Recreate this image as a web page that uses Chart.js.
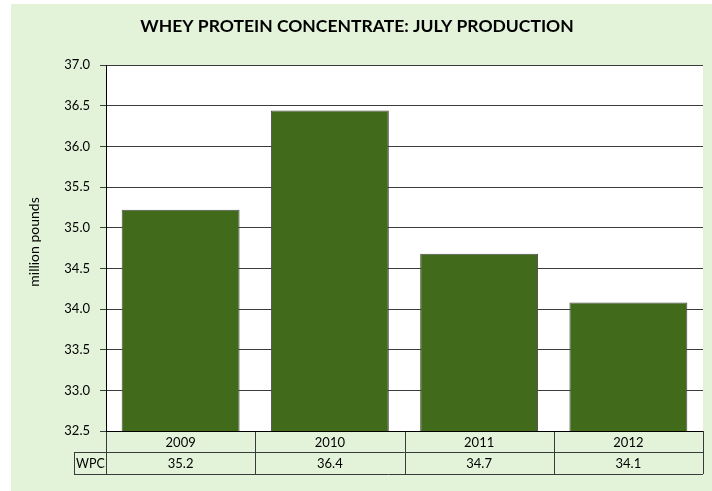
<!DOCTYPE html>
<html>
<head>
<meta charset="utf-8">
<script src="https://cdn.jsdelivr.net/npm/chart.js@4.4.1/dist/chart.umd.min.js"></script>
<style>
  html, body { margin: 0; padding: 0; background: #fff; }
  #wrap { position: absolute; left: 11px; top: 4px; width: 701px; height: 487px; background: #e3f3d9; }
</style>
</head>
<body>
<div id="wrap"><canvas id="chart"></canvas></div>
<script>
// ── data ──
const years = ['2009', '2010', '2011', '2012'];
const wpc = [35.22, 36.44, 34.68, 34.08];
const wpcLabels = ['35.2', '36.4', '34.7', '34.1'];
const seriesName = 'WPC';

const FONT = "Lato, 'Open Sans', sans-serif";

// white plot area
const plotBg = {
  id: 'plotBg',
  beforeDraw(chart) {
    const { ctx, chartArea: a } = chart;
    ctx.save();
    ctx.fillStyle = '#fff';
    ctx.fillRect(a.left, a.top, a.width, a.height);
    ctx.restore();
  }
};

// draws the data table under the plot
const dataTable = {
  id: 'dataTable',
  afterDraw(chart) {
    const { ctx, chartArea } = chart;
    const x = chart.scales.x;
    const n = years.length;
    const cw = chartArea.width / n;
    const top = chartArea.bottom;
    const row1 = 21, row2 = 22;
    const mid = top + row1;
    const bot = mid + row2;
    const labelLeft = 63;

    ctx.save();
    ctx.strokeStyle = '#3a3a3a';
    ctx.lineWidth = 1;
    ctx.beginPath();
    ctx.moveTo(chartArea.left, mid + 0.5); ctx.lineTo(chartArea.right, mid + 0.5);
    ctx.moveTo(labelLeft, mid + 0.5); ctx.lineTo(chartArea.left, mid + 0.5);
    ctx.moveTo(labelLeft, bot + 0.5); ctx.lineTo(chartArea.right, bot + 0.5);
    ctx.moveTo(labelLeft + 0.5, mid); ctx.lineTo(labelLeft + 0.5, bot);
    for (let i = 0; i <= n; i++) {
      const px = Math.round(chartArea.left + i * cw) + 0.5;
      ctx.moveTo(px, top); ctx.lineTo(px, bot);
    }
    ctx.stroke();

    ctx.strokeStyle = '#000';
    ctx.beginPath();
    ctx.moveTo(chartArea.left, top + 0.5); ctx.lineTo(chartArea.right, top + 0.5);
    ctx.stroke();

    ctx.fillStyle = '#000';
    ctx.font = '13px ' + FONT;
    ctx.textAlign = 'center';
    ctx.textBaseline = 'middle';
    years.forEach((y, i) => {
      const cx = x.getPixelForValue(i);
      ctx.fillText(y, cx, top + row1 / 2 + 1);
      ctx.fillText(wpcLabels[i], cx, mid + row2 / 2 + 1);
    });
    ctx.font = '12.5px ' + FONT;
    ctx.fillText(seriesName, (labelLeft + chartArea.left) / 2 + 0.5, mid + row2 / 2 + 1);

    // y axis title
    ctx.save();
    ctx.translate(23, 238);
    ctx.rotate(-Math.PI / 2);
    ctx.textAlign = 'center';
    ctx.font = '14px ' + FONT;
    ctx.fillText('million pounds', 0, 0);
    ctx.restore();
    ctx.restore();
  }
};

new Chart(document.getElementById('chart'), {
  type: 'bar',
  data: {
    labels: years,
    datasets: [{
      label: seriesName,
      data: wpc,
      backgroundColor: '#416b1b',
      borderColor: '#4d4d4d',
      borderWidth: 1,
      barPercentage: 0.79,
      categoryPercentage: 1.0,
    }]
  },
  options: {
    responsive: true,
    maintainAspectRatio: false,
    animation: false,
    layout: { padding: { left: 0, right: 9, top: 0, bottom: 60 } },
    plugins: {
      legend: { display: false },
      tooltip: { enabled: false },
      title: {
        display: true,
        text: 'WHEY PROTEIN CONCENTRATE: JULY PRODUCTION',
        color: '#000',
        font: { family: FONT, size: 17.5, weight: 'bold' },
        padding: { top: 12, bottom: 28 }
      }
    },
    scales: {
      x: { display: false },
      y: {
        min: 32.5,
        max: 37,
        afterFit: s => { s.width = 95; },
        grid: { color: '#3c3c3c', lineWidth: 1, drawTicks: true, tickLength: 6 },
        border: { display: true, color: '#000', width: 1 },
        ticks: {
          stepSize: 0.5,
          padding: 10,
          color: '#000',
          font: { family: FONT, size: 13 },
          callback: v => v.toFixed(1)
        }
      }
    }
  },
  plugins: [plotBg, dataTable]
});
</script>
</body>
</html>
